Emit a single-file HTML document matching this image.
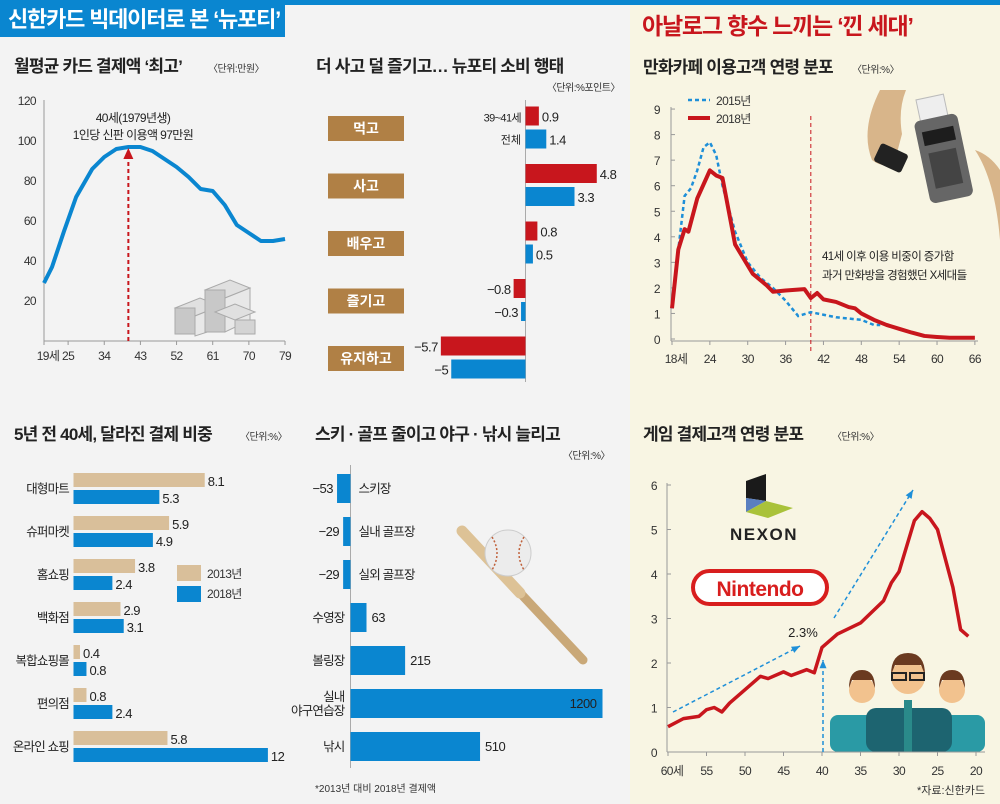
<!DOCTYPE html>
<html><head><meta charset="utf-8">
<style>
html,body{margin:0;padding:0;width:1000px;height:804px;overflow:hidden;background:#f3f3f3}
svg{display:block;font-family:"Liberation Sans","Noto Sans CJK KR",sans-serif}
.t{font-weight:bold;font-size:17px;fill:#222;letter-spacing:-0.8px}
.u{font-size:10px;fill:#333;letter-spacing:-0.5px}
.tk{font-size:12px;fill:#333;letter-spacing:-0.6px}
.v{font-size:13px;fill:#222;letter-spacing:-0.5px}
</style></head><body>
<svg id="root" width="1000" height="804" viewBox="0 0 1000 804">
<rect x="0" y="0" width="630" height="804" fill="#f3f3f3"/>
<rect x="630" y="0" width="370" height="804" fill="#f8f5e3"/>
<rect x="0" y="0" width="1000" height="5" fill="#0a86d0"/>
<rect x="0" y="0" width="285" height="37" fill="#0a86d0"/>
<text x="8" y="27" fill="#fff" font-size="22" font-weight="bold" letter-spacing="-1.2">신한카드 빅데이터로 본 ‘뉴포티’</text>
<text x="642" y="34" fill="#c8161d" font-size="23" font-weight="bold" letter-spacing="-1.2">아날로그 향수 느끼는 ‘낀 세대’</text>

<text class="t" x="14" y="72">월평균 카드 결제액 ‘최고’</text>
<text class="u" x="208" y="72">〈단위:만원〉</text>
<text class="t" x="316" y="72">더 사고 덜 즐기고… 뉴포티 소비 행태</text>
<text class="u" x="620" y="91" text-anchor="end">〈단위:%포인트〉</text>
<text class="t" x="643" y="73">만화카페 이용고객 연령 분포</text>
<text class="u" x="852" y="73">〈단위:%〉</text>
<text class="t" x="14" y="440">5년 전 40세, 달라진 결제 비중</text>
<text class="u" x="240" y="440">〈단위:%〉</text>
<text class="t" x="315" y="440">스키 · 골프 줄이고 야구 · 낚시 늘리고</text>
<text class="u" x="610" y="459" text-anchor="end">〈단위:%〉</text>
<text class="t" x="643" y="440">게임 결제고객 연령 분포</text>
<text class="u" x="832" y="440">〈단위:%〉</text>
<text x="315" y="792" font-size="10" fill="#333">*2013년 대비 2018년 결제액</text>
<text x="985" y="794" font-size="11" fill="#333" text-anchor="end">*자료:신한카드</text>

<g stroke="#aaa" stroke-width="1">
<polygon points="175,308 200,298 220,306 195,316" fill="#e0e0e0"/><rect x="175" y="308" width="20" height="26" fill="#c8c8c8"/><polygon points="195,316 220,306 220,328 195,336" fill="#e8e8e8"/>
<polygon points="205,290 230,280 250,288 225,298" fill="#e0e0e0"/><rect x="205" y="290" width="20" height="42" fill="#c8c8c8"/><polygon points="225,298 250,288 250,320 225,332" fill="#e8e8e8"/>
<polygon points="215,312 235,304 255,312 235,320" fill="#e0e0e0"/><rect x="235" y="320" width="20" height="14" fill="#d4d4d4"/>
</g>

<g>
<line x1="462" y1="531" x2="583" y2="660" stroke="#c9a878" stroke-width="9" stroke-linecap="round"/>
<line x1="462" y1="531" x2="520" y2="593" stroke="#ddc296" stroke-width="11" stroke-linecap="round"/>
<circle cx="508" cy="553" r="23" fill="#ececec" stroke="#ccc"/>
<path d="M492 537 q10 16 0 33 M524 537 q-10 16 0 33" stroke="#c0603a" fill="none" stroke-width="1.5" stroke-dasharray="2 2"/>
</g>

<g>
<path d="M880 90 q-20 40 -8 70 q10 8 22 4 l8 -30 q-4 -24 4 -44 z" fill="#d8b58a"/>
<path d="M975 150 q20 30 25 90 l0 -70 q-10 -15 -25 -20 z" fill="#d8b58a"/>
<g transform="rotate(-12 945 150)">
<rect x="927" y="95" width="28" height="26" fill="#eee" stroke="#bbb"/>
<rect x="920" y="116" width="44" height="84" rx="6" fill="#666"/>
<rect x="926" y="128" width="32" height="14" fill="#1d1d1d"/>
<rect x="928" y="150" width="28" height="36" fill="#444"/>
</g>
<rect x="876" y="148" width="30" height="20" rx="3" fill="#222" transform="rotate(25 891 158)"/>
</g>

<g>
<polygon points="746,481 766,474 766,501 746,498" fill="#1a1a1a"/>
<polygon points="746,498 766,501 746,512" fill="#5a7fc0"/>
<polygon points="746,512 766,501 793,508 768,518" fill="#a9c23a"/>
<text x="764" y="540" font-size="17" font-weight="bold" fill="#222" text-anchor="middle" letter-spacing="1.5">NEXON</text>
</g>
<g>
<rect x="693" y="571" width="134" height="33" rx="16.5" fill="#fff" stroke="#d81e1e" stroke-width="4"/>
<text x="760" y="596" font-size="21" font-weight="bold" fill="#d81e1e" text-anchor="middle" letter-spacing="-0.5">Nintendo</text>
</g>

<g>
<rect x="830" y="715" width="50" height="37" rx="8" fill="#2a9aa5"/>
<circle cx="862" cy="690" r="13" fill="#f2c28e"/><path d="M849 688 q0 -18 13 -18 q13 0 13 18 l-3 -8 l-20 0 z" fill="#6b3a20"/>
<rect x="935" y="715" width="50" height="37" rx="8" fill="#2a9aa5"/>
<circle cx="952" cy="690" r="13" fill="#f2c28e"/><path d="M939 688 q0 -18 13 -18 q13 0 13 18 l-3 -8 l-20 0 z" fill="#6b3a20"/>
<rect x="866" y="708" width="86" height="44" rx="10" fill="#1d6470"/>
<circle cx="908" cy="677" r="17" fill="#f2c28e"/><path d="M891 675 q0 -22 17 -22 q17 0 17 22 l-4 -10 l-26 0 z" fill="#6b3a20"/>
<rect x="892" y="673" width="14" height="7" fill="none" stroke="#222" stroke-width="2"/><rect x="910" y="673" width="14" height="7" fill="none" stroke="#222" stroke-width="2"/>
<rect x="904" y="700" width="8" height="52" fill="#2a8a8a"/>
</g>

<g id="c1"></g>
<g id="c2"></g>
<g id="c3"></g>
<g id="c4"></g>
<g id="c5"></g>
<g id="c6"></g>
</svg>
<script>
const c1Ages=[19,21,24,27,31,34,37,40,43,46,49,52,55,58,61,64,67,70,73,76,79];
const c1Vals=[29,37,55,72,86,92,96,97,97,95,91,87,82,76,75,68,58,54,50,50,51];
const c1YTicks=[20,40,60,80,100,120];
const c1XTicks=[19,25,34,43,52,61,70,79];
const c1PeakAge=40, c1PeakVal=97;
const c2Cats=['먹고','사고','배우고','즐기고','유지하고'];
const c2Age=[0.9,4.8,0.8,-0.8,-5.7];
const c2All=[1.4,3.3,0.5,-0.3,-5];
const c3Ages18=[18,19,20,20.6,22,24,25,26,28,30.8,33,34,36,39,40,41,42,44,46,47,48,50,52,54,56,58,60,62,66];
const c3Vals18=[1.2,3.5,4.3,4.2,5.5,6.6,6.4,6.3,3.7,2.55,2.1,1.85,1.9,1.95,1.6,1.8,1.55,1.45,1.25,1.2,1.0,0.75,0.55,0.4,0.25,0.12,0.08,0.05,0.05];
const c3Ages15=[18,19,20,21,22,23,24,25,26,28,30,32,34,36,38,40,42,44,46,48,50,51];
const c3Vals15=[1.2,3.5,5.6,5.9,6.6,7.5,7.7,7.2,6.0,4.2,3.0,2.4,2.0,1.5,0.9,1.05,0.95,0.85,0.8,0.75,0.55,0.55];
const c3YTicks=[0,1,2,3,4,5,6,7,8,9];
const c3XTicks=[18,24,30,36,42,48,54,60,66];
const c4Ages=[60,58,56,55,54,53,52,50,48,47,45,44,42,41,40,38,35,32,31,30,28,27,26,25,23,22,21];
const c4Vals=[0.57,0.75,0.8,0.95,1.0,0.9,1.1,1.4,1.7,1.65,1.8,1.72,1.85,1.78,2.35,2.65,2.9,3.4,3.8,4.05,5.2,5.4,5.25,5.0,3.7,2.75,2.6];
const c4YTicks=[0,1,2,3,4,5,6];
const c4XTicks=[60,55,50,45,40,35,30,25,20];
const c5Cats=['대형마트','슈퍼마켓','홈쇼핑','백화점','복합쇼핑몰','편의점','온라인 쇼핑'];
const c5V2013=[8.1,5.9,3.8,2.9,0.4,0.8,5.8];
const c5V2018=[5.3,4.9,2.4,3.1,0.8,2.4,12];
const c6Cats=[['스키장'],['실내 골프장'],['실외 골프장'],['수영장'],['볼링장'],['실내','야구연습장'],['낚시']];
const c6Vals=[-53,-29,-29,63,215,1200,510];

const NS='http://www.w3.org/2000/svg';
function mk(p,tag,attrs,txt){const e=document.createElementNS(NS,tag);for(const k in attrs)e.setAttribute(k,attrs[k]);if(txt!==undefined)e.textContent=txt;p.appendChild(e);return e;}
const BLUE='#0a86d0',RED='#c8161d',BEIGE='#d9bf9a';

(function(){
const g=document.getElementById('c1');
const x=a=>44+(a-19)*4.017, y=v=>341-v*2.0;
let e=mk(g,'line',{x1:44,y1:100,x2:44,y2:341,stroke:'#999'});

e=mk(g,'line',{x1:44,y1:341,x2:285,y2:341,stroke:'#999'});

c1YTicks.forEach(v=>{const t=mk(g,'text',{x:36,y:y(v)+4,class:'tk','text-anchor':'end'},v);
});
c1XTicks.forEach((a,i)=>{const t=mk(g,'text',{x:x(a)+(i==0?4:0),y:360,class:'tk','text-anchor':'middle'},i==0?a+'세':a);

mk(g,'line',{x1:x(a),y1:341,x2:x(a),y2:345,stroke:'#999'});});
const ln=mk(g,'polyline',{points:c1Ages.map((a,i)=>x(a)+','+y(c1Vals[i])).join(' '),fill:'none',stroke:BLUE,'stroke-width':4,'stroke-linejoin':'round'});

const ar=mk(g,'line',{x1:x(c1PeakAge),y1:341,x2:x(c1PeakAge),y2:y(c1PeakVal)+10,stroke:RED,'stroke-width':2,'stroke-dasharray':'4 3'});

mk(g,'polygon',{points:`${x(c1PeakAge)-5},${y(c1PeakVal)+12} ${x(c1PeakAge)+5},${y(c1PeakVal)+12} ${x(c1PeakAge)},${y(c1PeakVal)+1}`,fill:RED});
let t=mk(g,'text',{x:133,y:122,'font-size':12,'text-anchor':'middle',fill:'#222','letter-spacing':'-0.6'},'40세(1979년생)');

t=mk(g,'text',{x:133,y:139,'font-size':12,'text-anchor':'middle',fill:'#222','letter-spacing':'-0.6'},'1인당 신판 이용액 97만원');

})();

(function(){
const g=document.getElementById('c2');
const z=525.5,s=14.85;
const a=mk(g,'line',{x1:z,y1:100,x2:z,y2:382,stroke:'#aaa'});

c2Cats.forEach((c,i)=>{
 const cy=128.5+i*57.5;
 const b=mk(g,'rect',{x:328,y:cy-12.5,width:76,height:25,fill:'#b08045'});
 
 const t=mk(g,'text',{x:366,y:cy+5,'font-size':14,'font-weight':'bold',fill:'#fff','text-anchor':'middle'},c);
 
 [[c2Age[i],RED,cy-22,'c2-bar-age'],[c2All[i],BLUE,cy+1,'c2-bar-all']].forEach(([v,col,yy,nm])=>{
  const w=Math.abs(v)*s,xx=v>=0?z:z-w;
  const r=mk(g,'rect',{x:xx,y:yy,width:w,height:19,fill:col});
  
  const vt=mk(g,'text',{x:v>=0?xx+w+3:xx-3,y:yy+15,class:'v','text-anchor':v>=0?'start':'end'},v<0?'−'+Math.abs(v):v);
  
 });
 if(i==0){
  let l=mk(g,'text',{x:521,y:cy-7,'font-size':11,'text-anchor':'end',fill:'#222','letter-spacing':'-0.6'},'39~41세');
  
  l=mk(g,'text',{x:521,y:cy+15,'font-size':11,'text-anchor':'end',fill:'#222'},'전체');
  
 }
});
})();

(function(){
const g=document.getElementById('c3');
const x=a=>672+(a-18)*6.31,y=v=>339-v*25.55;
let e=mk(g,'line',{x1:671,y1:107,x2:671,y2:341,stroke:'#999'});

e=mk(g,'line',{x1:671,y1:341,x2:978,y2:341,stroke:'#999'});

c3YTicks.forEach(v=>{const t=mk(g,'text',{x:660,y:y(v)+5,class:'tk','text-anchor':'end'},v);

mk(g,'line',{x1:671,y1:y(v),x2:675,y2:y(v),stroke:'#999'});});
c3XTicks.forEach((a,i)=>{const t=mk(g,'text',{x:x(a)+(i==0?4:0),y:363,class:'tk','text-anchor':'middle'},i==0?a+'세':a);

mk(g,'line',{x1:x(a),y1:341,x2:x(a),y2:345,stroke:'#999'});});
const d=mk(g,'line',{x1:x(40),y1:116,x2:x(40),y2:353,stroke:RED,'stroke-dasharray':'4 3'});

const l15=mk(g,'polyline',{points:c3Ages15.map((a,i)=>x(a)+','+y(c3Vals15[i])).join(' '),fill:'none',stroke:'#1e8fd8','stroke-width':2.5,'stroke-dasharray':'4 3'});

const l18=mk(g,'polyline',{points:c3Ages18.map((a,i)=>x(a)+','+y(c3Vals18[i])).join(' '),fill:'none',stroke:RED,'stroke-width':4,'stroke-linejoin':'round'});

let lg=mk(g,'line',{x1:688,y1:100,x2:710,y2:100,stroke:'#1e8fd8','stroke-width':2.5,'stroke-dasharray':'4 3'});

lg=mk(g,'text',{x:716,y:105,class:'tk'},'2015년');

lg=mk(g,'line',{x1:688,y1:118,x2:710,y2:118,stroke:RED,'stroke-width':4});

lg=mk(g,'text',{x:716,y:123,class:'tk'},'2018년');

let n=mk(g,'text',{x:822,y:260,'font-size':11.5,fill:'#222','letter-spacing':'-0.6'},'41세 이후 이용 비중이 증가함');

n=mk(g,'text',{x:822,y:279,'font-size':11.5,fill:'#222','letter-spacing':'-0.6'},'과거 만화방을 경험했던 X세대들');

})();

(function(){
const g=document.getElementById('c4');
const x=a=>668+(60-a)*7.7,y=v=>752-v*44.5;
let e=mk(g,'line',{x1:667,y1:483,x2:667,y2:752,stroke:'#999'});

e=mk(g,'line',{x1:667,y1:752,x2:985,y2:752,stroke:'#999'});

c4YTicks.forEach(v=>{const t=mk(g,'text',{x:657,y:y(v)+5,class:'tk','text-anchor':'end'},v);

mk(g,'line',{x1:667,y1:y(v),x2:671,y2:y(v),stroke:'#999'});});
c4XTicks.forEach((a,i)=>{const t=mk(g,'text',{x:x(a)+(i==0?4:0),y:775,class:'tk','text-anchor':'middle'},i==0?a+'세':a);

mk(g,'line',{x1:x(a),y1:752,x2:x(a),y2:756,stroke:'#999'});});
const ln=mk(g,'polyline',{points:c4Ages.map((a,i)=>x(a)+','+y(c4Vals[i])).join(' '),fill:'none',stroke:RED,'stroke-width':3.5,'stroke-linejoin':'round'});

[[673,712,800,646],[834,618,913,490],[823,752,823,660]].forEach(([a,b,c,d])=>{
 const l=mk(g,'line',{x1:a,y1:b,x2:c,y2:d,stroke:'#1e8fd8','stroke-width':1.5,'stroke-dasharray':'4 3'});
 
 const ang=Math.atan2(d-b,c-a);
 const p=(r,o)=>[c-r*Math.cos(ang+o),d-r*Math.sin(ang+o)];
 const p1=p(9,0.4),p2=p(9,-0.4);
 mk(g,'polygon',{points:`${c},${d} ${p1[0]},${p1[1]} ${p2[0]},${p2[1]}`,fill:'#1e8fd8'});
});
const t=mk(g,'text',{x:803,y:637,'font-size':13,fill:'#222','text-anchor':'middle'},'2.3%');

})();

(function(){
const g=document.getElementById('c5');
const x0=73.5,s=16.2;
c5Cats.forEach((c,i)=>{
 const ty=473+i*43;
 const l=mk(g,'text',{x:69,y:ty+20,'font-size':12.5,'text-anchor':'end',fill:'#222','letter-spacing':'-0.8'},c);
 
 [[c5V2013[i],BEIGE,ty,'c5-bar-2013'],[c5V2018[i],BLUE,ty+17,'c5-bar-2018']].forEach(([v,col,yy,nm])=>{
  const r=mk(g,'rect',{x:x0,y:yy,width:v*s,height:14,fill:col});
  
  const vt=mk(g,'text',{x:x0+v*s+3,y:yy+13,class:'v'},v);
  
 });
});
let e=mk(g,'rect',{x:177,y:565,width:24,height:16,fill:BEIGE});

e=mk(g,'text',{x:207,y:578,class:'tk'},'2013년');

e=mk(g,'rect',{x:177,y:586,width:24,height:16,fill:BLUE});

e=mk(g,'text',{x:207,y:598,class:'tk'},'2018년');

})();

(function(){
const g=document.getElementById('c6');
const z=350.5,s=0.254,maxW=252;
const a=mk(g,'line',{x1:z,y1:465,x2:z,y2:768,stroke:'#aaa'});

c6Vals.forEach((v,i)=>{
 const ty=474+i*43,w=Math.min(Math.abs(v)*s,maxW),xx=v>=0?z:z-w,cy=ty+14;
 const r=mk(g,'rect',{x:xx,y:ty,width:w,height:29,fill:BLUE});
 
 const lines=c6Cats[i];
 lines.forEach((ln,j)=>{
  const ly=cy+5+(j-(lines.length-1)/2)*14;
  const t=mk(g,'text',{x:v>=0?z-6:z+8,y:ly,'font-size':12.5,fill:'#222','letter-spacing':'-0.8','text-anchor':v>=0?'end':'start'},ln);
  
 });
 let vx,anc,col='#222';
 if(v<0){vx=xx-4;anc='end';}
 else if(w>=maxW){vx=xx+w-6;anc='end';col='#fff';}
 else{vx=xx+w+5;anc='start';}
 const vt=mk(g,'text',{x:vx,y:cy+5,class:'v','text-anchor':anc,fill:col},v<0?'−'+Math.abs(v):v);
 
});
})();
</script>
</body></html>
